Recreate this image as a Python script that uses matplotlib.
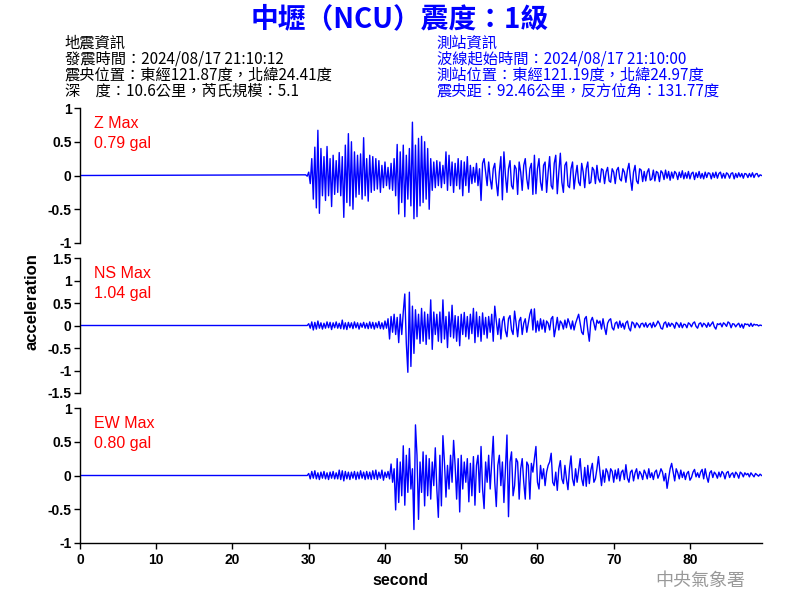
import numpy as np
import matplotlib.pyplot as plt

# --------------------------------
# Data (read off the reference, sampled every 0.2 s from 29.6 s)
# --------------------------------
t_start = 29.6
dt = 0.2

z_acc = [
    0.01, -0.01, 0.05, -0.12, 0.25, -0.35, 0.42, -0.48, 0.67, -0.56,
    0.40, -0.30, 0.28, -0.37, 0.43, -0.30, 0.25, -0.46, 0.30, -0.28,
    0.22, -0.25, 0.34, -0.30, 0.28, -0.62, 0.45, -0.40, 0.62, -0.45,
    0.50, -0.50, 0.35, -0.32, 0.30, -0.28, 0.32, -0.35, 0.56, -0.30,
    0.25, -0.38, 0.30, -0.25, 0.28, -0.22, 0.25, -0.20, 0.22, -0.25,
    0.15, -0.18, 0.20, -0.15, 0.12, -0.20, 0.18, -0.22, 0.25, -0.30,
    0.46, -0.57, 0.35, -0.40, 0.45, -0.61, 0.30, -0.35, 0.40, -0.45,
    0.79, -0.64, 0.45, -0.61, 0.55, -0.45, 0.58, -0.40, 0.50, -0.35,
    0.40, -0.50, 0.25, -0.22, 0.20, -0.18, 0.22, -0.15, 0.20, -0.18,
    0.15, -0.12, 0.35, -0.22, 0.30, -0.15, 0.20, -0.25, 0.18, -0.15,
    0.25, -0.20, 0.22, -0.30, 0.20, -0.15, 0.28, -0.25, 0.15, -0.12,
    0.12, -0.10, 0.18, -0.15, 0.10, -0.37, 0.18, 0.25, 0.05, -0.15,
    0.20, -0.05, -0.20, 0.10, 0.18, -0.10, -0.30, 0.05, 0.28, -0.36,
    0.35, 0.00, -0.25, 0.10, 0.22, -0.15, -0.20, 0.15, 0.10, -0.28,
    0.20, 0.05, -0.22, 0.15, 0.25, -0.05, -0.20, 0.10, 0.18, -0.28,
    0.30, -0.27, 0.10, 0.25, -0.10, -0.22, 0.15, 0.20, -0.25, 0.05,
    0.28, -0.15, -0.20, 0.18, 0.30, -0.27, 0.05, 0.33, -0.10, -0.25,
    0.15, 0.20, -0.15, -0.18, 0.10, 0.20, -0.20, 0.00, 0.15, -0.10,
    -0.15, 0.18, 0.05, -0.18, 0.10, 0.20, -0.12, -0.10, 0.12, 0.08,
    -0.12, 0.15, -0.05, -0.10, 0.10, 0.08, -0.12, 0.05, 0.12, -0.08,
    -0.10, 0.10, 0.05, -0.12, 0.08, 0.12, -0.05, -0.08, 0.10, 0.05,
    -0.10, 0.08, 0.18, -0.05, -0.22, 0.05, 0.15, -0.08, -0.12, 0.10,
    0.08, -0.09, 0.06, -0.08, 0.05, 0.10, -0.07, -0.05, 0.08, -0.08,
    0.06, 0.04, -0.09, 0.07, 0.04, -0.06, 0.08, -0.04, 0.06, -0.07,
    0.05, -0.04, 0.06, 0.03, -0.06, 0.05, -0.03, 0.07, -0.05, 0.04,
    -0.04, 0.06, -0.05, 0.03, 0.05, -0.06, 0.04, -0.03, 0.06, -0.04,
    0.03, -0.05, 0.05, -0.03, 0.04, 0.03, -0.05, 0.04, -0.03, 0.05,
    -0.04, 0.03, 0.05, -0.04, 0.03, -0.04, 0.04, 0.02, -0.04, 0.03,
    0.04, -0.05, 0.03, -0.03, 0.04, -0.02, 0.03, -0.04, 0.03, 0.02,
    -0.03, 0.03, -0.02, 0.04, -0.03, 0.02, 0.03, -0.02, 0.01, 0.00,
]

ns_acc = [
    0.00, 0.00, 0.04, -0.06, 0.08, -0.10, 0.07, -0.08, 0.10, -0.06,
    0.06, -0.08, 0.05, -0.06, 0.08, -0.05, 0.07, -0.09, 0.06, -0.05,
    0.08, -0.06, 0.05, -0.07, 0.12, -0.08, 0.06, -0.09, 0.07, -0.05,
    0.06, -0.07, 0.08, -0.05, 0.06, -0.08, 0.05, -0.04, 0.07, -0.06,
    0.05, -0.07, 0.08, -0.06, 0.07, -0.08, 0.06, -0.05, 0.09, -0.07,
    0.06, -0.08, 0.10, -0.06, 0.15, -0.30, 0.20, -0.15, 0.25, -0.20,
    0.18, -0.38, 0.25, -0.20, 0.30, 0.70, -0.40, -1.04, 0.74, -0.91,
    0.43, -0.62, 0.35, -0.30, 0.25, -0.40, 0.38, -0.35, 0.30, -0.42,
    0.25, -0.30, 0.57, -0.53, 0.30, -0.20, 0.25, -0.35, 0.30, -0.38,
    0.57, -0.30, 0.20, -0.49, 0.30, -0.25, 0.45, -0.28, 0.22, -0.35,
    0.20, -0.45, 0.25, -0.20, 0.29, -0.25, 0.20, -0.30, 0.25, -0.18,
    0.38, -0.38, 0.30, -0.25, 0.20, -0.35, 0.28, -0.20, 0.18, -0.28,
    0.20, -0.15, 0.25, -0.35, 0.43, 0.10, -0.20, 0.15, -0.30, 0.10,
    0.20, -0.12, -0.25, 0.15, 0.22, -0.10, -0.20, 0.32, 0.05, -0.25,
    0.10, 0.18, -0.20, 0.05, 0.15, -0.15, 0.05, 0.25, 0.36, -0.10,
    0.37, -0.15, 0.10, -0.12, 0.15, -0.08, 0.12, -0.15, 0.10, 0.05,
    -0.10, 0.15, 0.20, -0.25, -0.05, 0.18, -0.10, 0.10, 0.05, -0.08,
    0.12, -0.05, 0.15, 0.05, -0.08, 0.10, -0.10, 0.05, 0.15, 0.25,
    0.05, -0.15, -0.20, 0.15, 0.20, -0.10, -0.35, 0.10, 0.18, 0.05,
    -0.10, 0.12, 0.05, 0.10, -0.08, 0.15, -0.05, -0.20, 0.05, 0.12,
    0.15, -0.05, -0.10, 0.05, 0.08, -0.06, 0.10, -0.04, 0.05, -0.08,
    0.06, 0.10, -0.06, -0.12, 0.08, 0.05, -0.05, 0.06, 0.02, -0.05,
    0.04, 0.05, -0.03, 0.06, -0.04, 0.02, 0.05, -0.05, 0.07, -0.03,
    0.02, 0.10, 0.04, -0.06, -0.08, 0.05, 0.08, -0.04, 0.06, -0.02,
    0.05, 0.02, -0.06, 0.07, 0.03, -0.04, 0.06, -0.05, 0.03, 0.02,
    -0.05, 0.06, 0.03, -0.03, 0.05, 0.08, -0.02, -0.06, 0.04, 0.06,
    -0.03, 0.05, 0.02, -0.04, 0.06, -0.02, 0.03, 0.08, -0.03, -0.08,
    0.04, 0.02, 0.05, -0.03, 0.06, 0.03, -0.02, 0.08, 0.05, -0.05,
    0.04, 0.03, -0.03, 0.02, 0.05, -0.04, 0.03, -0.06, 0.04, 0.02,
    0.03, -0.02, 0.05, -0.02, 0.03, 0.01, 0.02, -0.01, 0.01, 0.00,
]

ew_acc = [
    0.00, 0.00, 0.03, -0.05, 0.06, -0.04, 0.07, -0.05, 0.04, -0.06,
    0.05, -0.04, 0.06, -0.05, 0.04, -0.06, 0.05, -0.04, 0.06, -0.05,
    0.04, -0.05, 0.08, -0.06, 0.07, -0.08, 0.06, -0.05, 0.05, -0.06,
    0.05, -0.04, 0.06, -0.06, 0.05, -0.05, 0.07, -0.04, 0.05, -0.06,
    0.06, -0.05, 0.05, -0.06, 0.07, -0.05, 0.08, -0.06, 0.05, -0.04,
    0.08, -0.07, 0.05, -0.03, 0.06, -0.05, 0.17, -0.10, 0.10, -0.51,
    0.25, -0.40, 0.20, -0.30, 0.44, -0.44, 0.30, -0.25, 0.40, -0.20,
    0.10, -0.80, 0.75, 0.30, -0.65, 0.20, -0.25, 0.35, -0.45, 0.30,
    -0.30, 0.25, -0.35, 0.20, -0.15, 0.41, -0.20, -0.62, 0.30, -0.45,
    0.59, 0.20, -0.32, 0.15, -0.20, 0.30, -0.10, 0.52, 0.15, -0.35,
    0.25, -0.54, 0.30, -0.20, 0.20, -0.10, 0.25, -0.39, 0.18, -0.30,
    0.28, -0.44, 0.15, 0.30, -0.25, 0.43, -0.20, -0.49, 0.20, -0.10,
    0.30, -0.20, 0.20, 0.58, -0.10, -0.46, 0.15, 0.30, -0.15, 0.20,
    -0.40, 0.10, 0.60, -0.61, 0.20, 0.35, -0.30, -0.15, 0.25, 0.20,
    -0.35, 0.10, 0.25, -0.10, -0.35, 0.20, 0.15, -0.35, 0.18, 0.05,
    0.25, 0.43, -0.10, -0.20, 0.15, -0.05, 0.10, -0.15, 0.05, 0.15,
    0.20, 0.33, -0.10, -0.15, 0.05, -0.22, 0.10, 0.22, -0.05, -0.12,
    0.15, -0.05, -0.21, 0.10, 0.29, -0.05, -0.15, 0.10, -0.10, 0.08,
    0.25, -0.05, -0.15, 0.12, -0.16, 0.15, -0.12, 0.08, 0.18, -0.10,
    -0.05, 0.10, 0.28, 0.05, -0.15, 0.08, -0.10, 0.10, 0.05, -0.08,
    0.10, 0.06, -0.10, 0.08, -0.05, 0.10, -0.08, 0.05, 0.08, -0.06,
    0.16, -0.04, -0.10, 0.05, 0.08, -0.08, 0.04, 0.10, -0.05, 0.06,
    0.02, -0.06, 0.08, 0.03, -0.05, 0.10, -0.03, 0.04, -0.06, 0.05,
    0.08, -0.04, 0.02, 0.10, 0.05, -0.08, 0.03, -0.19, -0.05, 0.10,
    0.18, 0.05, -0.08, 0.10, 0.04, -0.05, 0.08, -0.03, 0.05, -0.06,
    0.03, 0.06, -0.07, -0.03, 0.05, 0.09, -0.02, 0.04, -0.03, 0.05,
    0.09, -0.05, 0.10, -0.02, -0.10, 0.04, 0.07, -0.03, 0.05, 0.02,
    -0.04, 0.05, -0.02, 0.06, 0.03, -0.05, 0.04, 0.06, -0.03, 0.02,
    0.04, -0.03, 0.05, 0.02, -0.04, 0.05, 0.03, -0.02, 0.04, 0.01,
    0.03, -0.02, 0.04, 0.01, -0.02, 0.03, 0.01, -0.01, 0.02, 0.00,
]

components = ["Z", "NS", "EW"]
max_labels = ["0.79 gal", "1.04 gal", "0.80 gal"]
y_limits = [(-1, 1), (-1.5, 1.5), (-1, 1)]
y_ticks = [
    [-1, -0.5, 0, 0.5, 1],
    [-1.5, -1, -0.5, 0, 0.5, 1, 1.5],
    [-1, -0.5, 0, 0.5, 1],
]
x_ticks = [0, 10, 20, 30, 40, 50, 60, 70, 80]

title = "中壢（NCU）震度：1級"
quake_info = [
    "地震資訊",
    "發震時間：2024/08/17 21:10:12",
    "震央位置：東經121.87度，北緯24.41度",
    "深　度：10.6公里，芮氏規模：5.1",
]
station_info = [
    "測站資訊",
    "波線起始時間：2024/08/17 21:10:00",
    "測站位置：東經121.19度，北緯24.97度",
    "震央距：92.46公里，反方位角：131.77度",
]

# --------------------------------
# Plot
# --------------------------------
plt.rcParams['font.family'] = ['Liberation Sans', 'DejaVu Sans']
cjk = ['Noto Sans CJK TC', 'DejaVu Sans']

fig = plt.figure(figsize=(8, 6), dpi=100)

bottoms = [0.595, 0.345, 0.095]
traces = [z_acc, ns_acc, ew_acc]

for i, acc in enumerate(traces):
    ax = fig.add_axes([0.1, bottoms[i], 0.8525, 0.225])
    t = t_start + dt * np.arange(len(acc))
    t = np.concatenate([[0.0], t])
    a = np.concatenate([[0.0], acc])
    ax.plot(t, a, color='#0000ff', linewidth=1.0)

    ax.set_xlim(0, 89.45)
    ax.set_ylim(*y_limits[i])
    ax.set_yticks(y_ticks[i])
    ax.set_yticklabels([f"{v:g}" for v in y_ticks[i]], fontweight='bold', fontsize=10)
    ax.tick_params(axis='y', direction='out', length=4, width=1, pad=2)

    for side in ['top', 'right']:
        ax.spines[side].set_visible(False)
    ax.spines['left'].set_linewidth(1)

    if i < 2:
        ax.spines['bottom'].set_visible(False)
        ax.set_xticks([])
    else:
        ax.spines['bottom'].set_linewidth(1)
        ax.set_xticks(x_ticks)
        ax.set_xticklabels([str(v) for v in x_ticks], fontweight='bold', fontsize=10)
        ax.tick_params(axis='x', direction='out', length=4, width=1, pad=3)

    ax.text(0.02, 0.94, f"{components[i]} Max", transform=ax.transAxes,
            color='#ff0000', fontsize=11.5, va='top', ha='left')
    ax.text(0.02, 0.795, max_labels[i], transform=ax.transAxes,
            color='#ff0000', fontsize=11.5, va='top', ha='left')

fig.text(0.5, 0.033, "second", ha='center', va='center',
         fontweight='bold', fontsize=11.5)
fig.text(0.04, 0.497, "acceleration", ha='center', va='center',
         rotation=90, fontweight='bold', fontsize=12)

fig.text(0.5, 0.968, title, ha='center', va='center', color='#0000ff',
         fontsize=20, fontweight='bold', family=cjk)

for k, line in enumerate(quake_info):
    fig.text(0.081, 0.928 - k * 0.0268, line, ha='left', va='center',
             color='black', fontsize=11, family=cjk)
for k, line in enumerate(station_info):
    fig.text(0.546, 0.928 - k * 0.0268, line, ha='left', va='center',
             color='#0000ff', fontsize=11, family=cjk)

fig.text(0.875, 0.032, "中央氣象署", ha='center', va='center',
         color='#999999', fontsize=13, family=cjk)

fig.savefig("out.png", dpi=100)
